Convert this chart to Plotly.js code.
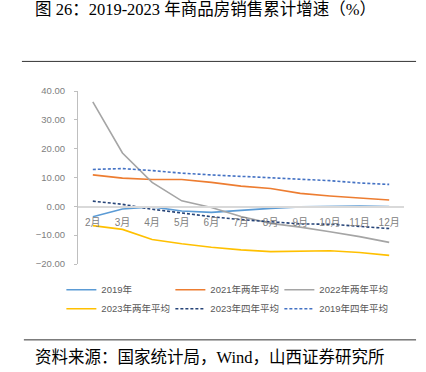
<!DOCTYPE html>
<html>
<head>
<meta charset="utf-8">
<script src="https://cdn.plot.ly/plotly-3.0.1.min.js"></script>
<style>html,body{margin:0;padding:0;background:#fff;}#chart{width:426px;height:372px;}</style>
</head>
<body>
<div id="chart"></div>
<script>
var months = ['2月','3月','4月','5月','6月','7月','8月','9月','10月','11月','12月'];
var s2019 = [-3.6, -0.9, -0.2, -1.6, -2.1, -1.3, -0.7, -0.2, 0.0, 0.1, -0.1];
var s2021avg2 = [10.9, 9.8, 9.3, 9.3, 8.3, 7.0, 6.2, 4.5, 3.6, 3.0, 2.2];
var s2022avg2 = [36.2, 18.5, 8.3, 1.9, -0.4, -3.5, -5.9, -7.2, -8.8, -10.5, -12.5];
var s2023avg2 = [-6.7, -8.0, -11.5, -13.0, -14.2, -15.1, -15.7, -15.5, -15.4, -16.0, -17.0];
var s2023avg4 = [1.8, 0.7, -1.0, -2.4, -3.6, -4.6, -5.3, -6.1, -6.2, -7.0, -7.7];
var s2019avg4 = [12.8, 13.1, 12.4, 11.5, 10.9, 10.4, 10.0, 9.6, 8.9, 8.1, 7.6];
var names = ['2019年','2021年两年平均','2022年两年平均','2023年两年平均','2023年四年平均','2019年四年平均'];
var series = [s2019, s2021avg2, s2022avg2, s2023avg2, s2023avg4, s2019avg4];
var colors = ['#5B9BD5','#ED7D31','#A5A5A5','#FFC000','#264478','#4472C4'];
var dashes = ['solid','solid','solid','solid','3px,2px','3px,2px'];

var traces = series.map(function(v,i){
  return {x: months, y: v, name: names[i], type:'scatter', mode:'lines',
    line:{color:colors[i], width:1.6, dash:dashes[i]}, hoverinfo:'skip'};
});

var serif = 'Liberation Serif, Noto Sans CJK SC, serif';
var sans = 'Liberation Sans, Noto Sans CJK SC, sans-serif';

var layout = {
  width:426, height:372,
  margin:{l:78, r:22, t:91, b:108},
  paper_bgcolor:'#fff', plot_bgcolor:'#fff',
  showlegend:true,
  legend:{orientation:'h', x:-0.051, y:-0.065, xanchor:'left', yanchor:'top',
    entrywidth:64, entrywidthmode:'pixels', traceorder:'normal',
    font:{family:sans, size:9.5, color:'#595959'}, tracegroupgap:0},
  xaxis:{type:'category', range:[-0.5,10.5], anchor:'free', position:1/3,
    showline:true, linecolor:'#d9d9d9', linewidth:1.5, ticks:'', showgrid:false, zeroline:false,
    tickfont:{family:sans, size:10, color:'#808080'}, ticklabelstandoff:6},
  yaxis:{range:[-20,40], dtick:10, tickformat:'.2f', showline:true, linecolor:'#bfbfbf', linewidth:1,
    ticks:'outside', ticklen:3, tickcolor:'#bfbfbf', showgrid:false, zeroline:false,
    tickfont:{family:sans, size:9.5, color:'#808080'}, ticklabelstandoff:7},
  shapes:[
    {type:'line', xref:'paper', yref:'paper', x0:-0.172, x1:1.037, y0:1.171, y1:1.171, line:{color:'#333', width:1}},
    {type:'line', xref:'paper', yref:'paper', x0:-0.166, x1:1.037, y0:-0.4385, y1:-0.4385, line:{color:'#333', width:1}}
  ],
  annotations:[
    {text:'图 26：2019-2023 年商品房销售累计增速（%）', xref:'paper', yref:'paper', x:0.3896, y:1.4714,
     xanchor:'center', yanchor:'middle', showarrow:false, font:{family:serif, size:16.5, color:'#000'}},
    {text:'资料来源：国家统计局，Wind，山西证券研究所', xref:'paper', yref:'paper', x:-0.138, y:-0.5424,
     xanchor:'left', yanchor:'middle', showarrow:false, font:{family:serif, size:16.5, color:'#000'}}
  ]
};
Plotly.newPlot('chart', traces, layout, {staticPlot:true});
</script>
</body>
</html>
